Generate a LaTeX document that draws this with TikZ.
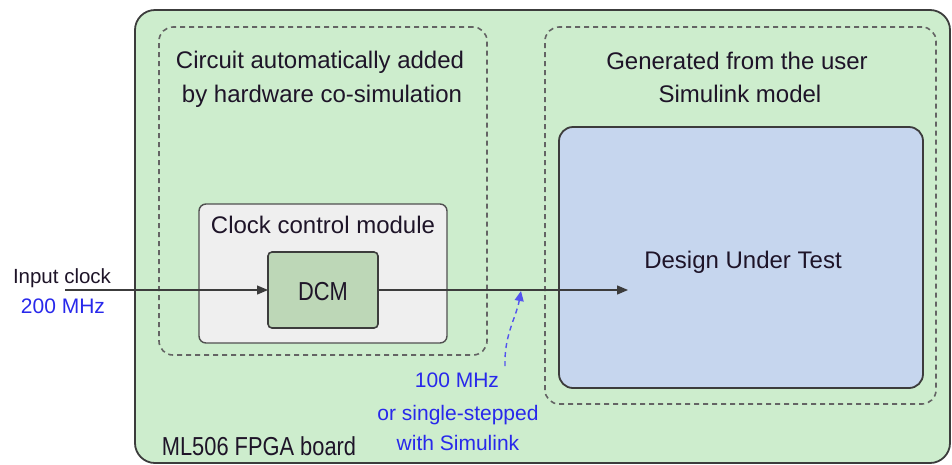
\documentclass[tikz,border=0pt]{standalone}
\usepackage{fontspec}
\setmainfont{Liberation Sans}
\newfontfamily\narrowfont{Liberation Sans}[FakeStretch=0.84]
\usetikzlibrary{arrows.meta}
\definecolor{boardgreen}{RGB}{205,237,205}
\definecolor{clockgray}{RGB}{239,239,239}
\definecolor{dcmgreen}{RGB}{189,215,183}
\definecolor{dutblue}{RGB}{198,214,238}
\definecolor{edgegray}{RGB}{60,60,60}
\definecolor{dashgray}{RGB}{100,100,100}
\definecolor{labelblue}{RGB}{40,40,235}
\definecolor{txt}{RGB}{30,20,40}
\tikzset{
  box/.style={rectangle, inner sep=0pt, outer sep=0pt},
  boardbox/.style={box, draw=edgegray, line width=1.8pt, fill=boardgreen, rounded corners=20pt},
  dashbox/.style={box, draw=dashgray, line width=1.6pt, dash pattern=on 5pt off 4pt, rounded corners=14pt},
  clockbox/.style={box, draw=edgegray!90, line width=1.4pt, fill=clockgray, rounded corners=7pt},
  dcmbox/.style={box, draw=edgegray, line width=1.6pt, fill=dcmgreen, rounded corners=4pt},
  dutbox/.style={box, draw=edgegray, line width=1.8pt, fill=dutblue, rounded corners=14pt},
  bigtxt/.style={inner sep=0pt, anchor=base, text=txt, font=\fontsize{24}{28}\selectfont},
  narrowtxt/.style={inner sep=0pt, anchor=base, text=txt, font=\narrowfont\fontsize{26}{30}\selectfont},
  midtxt/.style={inner sep=0pt, anchor=base, text=txt, font=\fontsize{20.5}{24}\selectfont},
  bluetxt/.style={inner sep=0pt, anchor=base, text=labelblue, font=\fontsize{21}{25}\selectfont},
  sig/.style={draw=edgegray, line width=1.3pt, -{Triangle[length=11pt,width=9pt]}},
  bluesig/.style={draw=labelblue!80, line width=1.4pt, dash pattern=on 5pt off 4pt, -{Triangle[length=10pt,width=9pt]}}
}
\begin{document}
\begin{tikzpicture}[x=1pt,y=-1pt]
\useasboundingbox (0,0) rectangle (952,464);
% boxes
\node[boardbox, minimum width=815pt, minimum height=453pt] (board) at (542.5,236.5) {};
\node[dashbox, minimum width=328pt, minimum height=328pt] (auto) at (323,191) {};
\node[dashbox, minimum width=391pt, minimum height=377pt] (user) at (740.5,215.5) {};
\node[clockbox, minimum width=248pt, minimum height=139pt] (clk) at (323,273.5) {};
\node[dcmbox, minimum width=110pt, minimum height=76pt] (dcm) at (323,290) {};
\node[dutbox, minimum width=364pt, minimum height=261pt] (dut) at (741,257.5) {};
% texts
\node[bigtxt] (autoA) at (320,68) {Circuit automatically added};
\node[bigtxt] (autoB) at (322,102) {by hardware co-simulation};
\node[bigtxt] (userA) at (737,69) {Generated from the user};
\node[bigtxt] (userB) at (740,102) {Simulink model};
\node[bigtxt] (clkt) at (323,233) {Clock control module};
\node[narrowtxt] (dcmt) at (323,300) {DCM};
\node[bigtxt] (dutt) at (743,268) {Design Under Test};
\node[narrowtxt] (boardt) at (259,455) {ML506 FPGA board};
\node[midtxt] (inA) at (62,283) {Input clock};
\node[bluetxt] (inB) at (63,313) {200 MHz};
\node[bluetxt] (fA) at (457,387) {100 MHz};
\node[bluetxt] (fB) at (458,420) {or single-stepped};
\node[bluetxt] (fC) at (458,450) {with Simulink};
% connectors
\coordinate (src) at (65,290);
\coordinate (sink) at (628,290);
\coordinate (bstart) at (505,366);
\coordinate (bend) at (521,291);
\draw[sig] (src) -- (dcm.west);
\draw[sig] (dcm.east) -- (sink);
\draw[bluesig] (bstart) .. controls (504,335) and (516,318) .. (bend);
\end{tikzpicture}
\end{document}
